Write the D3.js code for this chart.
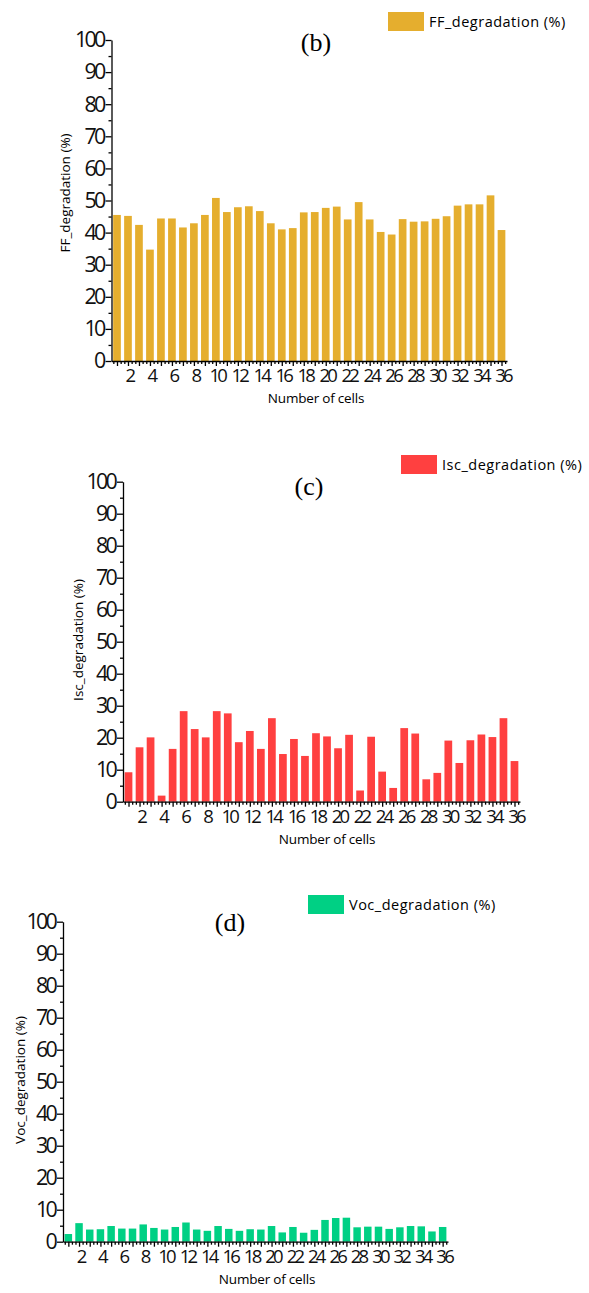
<!DOCTYPE html>
<html>
<head>
<meta charset="utf-8">
<script src="https://cdn.jsdelivr.net/npm/d3@7"></script>
<style>
  body { margin: 0; background: #fff; }
  svg { display: block; }
</style>
</head>
<body>
<div id="chart"></div>
<script>
const cells = [1, 2, 3, 4, 5, 6, 7, 8, 9, 10, 11, 12, 13, 14, 15, 16, 17, 18,
    19, 20, 21, 22, 23, 24, 25, 26, 27, 28, 29, 30, 31, 32, 33, 34, 35, 36];

const ffDegradation = [45.5, 45.2, 42.4, 34.7, 44.4, 44.4, 41.6, 42.9, 45.5, 50.8, 46.4, 47.9,
    48.2, 46.7, 42.9, 41.0, 41.4, 46.3, 46.4, 47.7, 48.1, 44.1, 49.5, 44.1,
    40.2, 39.4, 44.2, 43.4, 43.5, 44.3, 45.1, 48.4, 48.8, 48.8, 51.6, 40.8];

const iscDegradation = [9.2, 17.0, 20.1, 1.9, 16.5, 28.3, 22.7, 20.1, 28.3, 27.6, 18.6, 22.1,
    16.5, 26.1, 14.9, 19.6, 14.3, 21.4, 20.4, 16.7, 20.9, 3.5, 20.3, 9.4,
    4.3, 23.0, 21.3, 7.0, 9.0, 19.1, 12.1, 19.2, 21.0, 20.2, 26.1, 12.7];

const vocDegradation = [2.4, 5.8, 3.8, 3.9, 4.9, 4.1, 4.1, 5.4, 4.3, 3.8, 4.6, 6.0,
    3.8, 3.4, 4.9, 4.0, 3.4, 3.9, 3.8, 4.9, 2.9, 4.6, 2.8, 3.7,
    6.8, 7.4, 7.5, 4.5, 4.7, 4.7, 4.0, 4.5, 4.9, 4.8, 3.2, 4.6];

const yTickValues = [0, 10, 20, 30, 40, 50, 60, 70, 80, 90, 100];
const yMinorValues = [5, 15, 25, 35, 45, 55, 65, 75, 85, 95];
const xTickLabels = [2, 4, 6, 8, 10, 12, 14, 16, 18, 20, 22, 24, 26, 28, 30, 32, 34, 36];

const WIDTH = 589, HEIGHT = 1293;
const TICK_FONT = "'Open Sans', sans-serif";

// layout of the three stacked panels
const panels = [
    {tag: "(b)", name: "FF_degradation (%)", values: ffDegradation, color: "#E5AE2E",
        left: 111.5, right: 507, top: 40, bottom: 361,
        tagX: 316, tagY: 51, legX: 388, legY: 12, xLabelX: 316, yLabelX: 66, yLabelY: 193},
    {tag: "(c)", name: "Isc_degradation (%)", values: iscDegradation, color: "#FF4040",
        left: 123, right: 520, top: 481.7, bottom: 801.7,
        tagX: 309, tagY: 495, legX: 401, legY: 455, xLabelX: 327, yLabelX: 79, yLabelY: 640},
    {tag: "(d)", name: "Voc_degradation (%)", values: vocDegradation, color: "#00D084",
        left: 63, right: 448, top: 921.7, bottom: 1241.7,
        tagX: 230, tagY: 931, legX: 308, legY: 895, xLabelX: 267, yLabelX: 21, yLabelY: 1080}
];

const svg = d3.select("#chart")
    .append("svg")
    .attr("width", WIDTH)
    .attr("height", HEIGHT);

function drawPanel(p) {
    const g = svg.append("g");

    const x = d3.scaleBand()
        .domain(cells)
        .range([p.left, p.right])
        .paddingInner(0.3)
        .paddingOuter(0.15);
    // linear twin of the band scale, used for the tick marks
    const xLin = d3.scaleLinear().domain([0.5, 36.5]).range([p.left, p.right]);
    const y = d3.scaleLinear().domain([0, 100]).range([p.bottom, p.top]);

    // bars
    g.append("g")
        .selectAll("rect")
        .data(p.values)
        .enter()
        .append("rect")
        .attr("x", (d, i) => x(cells[i]))
        .attr("y", d => y(d))
        .attr("width", x.bandwidth())
        .attr("height", d => y(0) - y(d))
        .attr("fill", p.color);

    // y axis
    const yAxis = g.append("g")
        .attr("transform", `translate(${p.left},0)`)
        .call(d3.axisLeft(y).tickValues(yTickValues).tickSize(6).tickSizeOuter(0).tickPadding(2));
    yAxis.selectAll("text")
        .attr("font-family", TICK_FONT)
        .attr("font-size", 21.5)
        .attr("letter-spacing", "-2.8px")
        .attr("fill", "#111");
    g.append("g")
        .attr("transform", `translate(${p.left},0)`)
        .call(d3.axisLeft(y).tickValues(yMinorValues).tickSize(3).tickFormat(""))
        .select(".domain").remove();

    // x axis
    const minor = [];
    cells.forEach(c => { minor.push(c - 1 / 3, c + 1 / 3); });
    g.append("g")
        .attr("transform", `translate(0,${p.bottom})`)
        .call(d3.axisBottom(xLin).tickValues(minor).tickSize(3).tickSizeOuter(0).tickFormat(""));
    g.append("g")
        .attr("transform", `translate(0,${p.bottom})`)
        .call(d3.axisBottom(xLin).tickValues(cells).tickSize(5).tickSizeOuter(0).tickFormat(""))
        .select(".domain").remove();
    const xAxis = g.append("g")
        .attr("transform", `translate(0,${p.bottom})`)
        .call(d3.axisBottom(xLin).tickValues(xTickLabels).tickSize(0).tickPadding(8));
    xAxis.select(".domain").remove();
    xAxis.selectAll("text")
        .attr("font-family", TICK_FONT)
        .attr("font-size", 18.5)
        .attr("letter-spacing", "-2.8px")
        .attr("dx", "1px")
        .attr("fill", "#111");

    g.selectAll(".domain, .tick line")
        .attr("stroke", "#000")
        .attr("stroke-width", 1.3);

    // axis titles
    g.append("text")
        .attr("x", p.xLabelX)
        .attr("y", p.bottom + 42)
        .attr("text-anchor", "middle")
        .attr("font-family", TICK_FONT)
        .attr("font-size", 13.5)
        .attr("letter-spacing", "-0.2px")
        .text("Number of cells");
    g.append("text")
        .attr("transform", `translate(${p.yLabelX},${p.yLabelY}) rotate(-90)`)
        .attr("text-anchor", "middle")
        .attr("dominant-baseline", "middle")
        .attr("font-family", TICK_FONT)
        .attr("font-size", 13.5)
        .text(p.name);

    // panel tag
    g.append("text")
        .attr("x", p.tagX)
        .attr("y", p.tagY)
        .attr("text-anchor", "middle")
        .attr("font-family", "'Liberation Serif', serif")
        .attr("font-size", 26)
        .text(p.tag);

    // legend
    g.append("rect")
        .attr("x", p.legX)
        .attr("y", p.legY)
        .attr("width", 36)
        .attr("height", 19)
        .attr("fill", p.color);
    g.append("text")
        .attr("x", p.legX + 41)
        .attr("y", p.legY + 15)
        .attr("font-family", TICK_FONT)
        .attr("font-size", 14.5)
        .attr("letter-spacing", "0.5px")
        .text(p.name);
}

panels.forEach(drawPanel);
</script>
</body>
</html>
